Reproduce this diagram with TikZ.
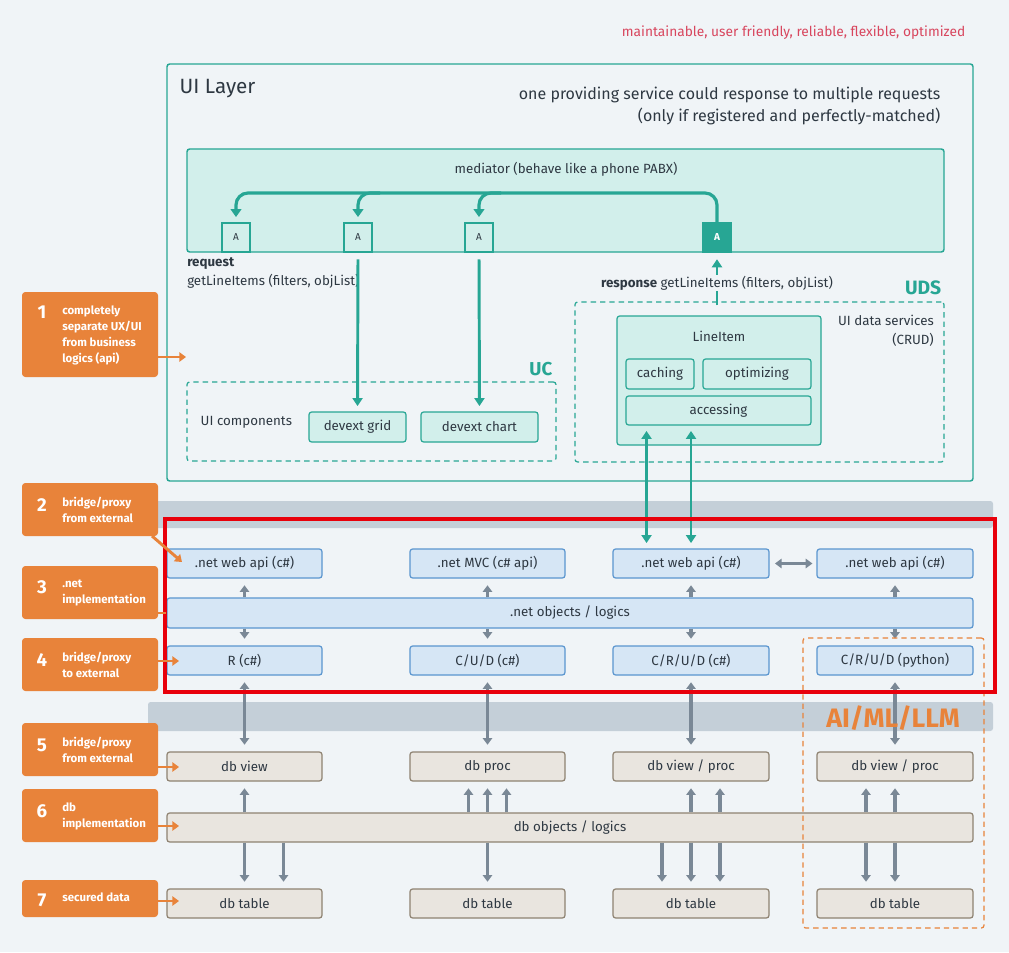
\documentclass[tikz,border=0pt]{standalone}
\usepackage{fontspec}
\setmainfont{Fira Sans}
\usetikzlibrary{arrows.meta,calc}
\definecolor{bg}{HTML}{F0F4F7}
\definecolor{teal}{HTML}{27A694}
\definecolor{tealL}{HTML}{D2EFEB}
\definecolor{txt}{HTML}{2E3842}
\definecolor{blueF}{HTML}{D6E6F5}
\definecolor{blueB}{HTML}{5A95CF}
\definecolor{garr}{HTML}{7A8896}
\definecolor{gbar}{HTML}{C4CFD8}
\definecolor{brownF}{HTML}{E9E5DF}
\definecolor{brownB}{HTML}{8E8271}
\definecolor{orng}{HTML}{E8833A}
\definecolor{redR}{HTML}{E8000B}
\definecolor{redT}{HTML}{D8465E}
\newcommand\mybox[7]{%
  \pgfmathsetmacro\bcx{(#3+#5)/2}%
  \pgfmathsetmacro\bcy{(#4+#6)/2}%
  \pgfmathsetmacro\bw{(#5-#3)*0.75}%
  \pgfmathsetmacro\bh{(#6-#4)*0.75}%
  \node[#2,minimum width=\bw pt,minimum height=\bh pt,inner sep=0pt] (#1) at (\bcx,\bcy) {#7};}
\tikzset{
  uilayer/.style={draw=teal,line width=1.1pt,rounded corners=2pt},
  medbox/.style={draw=teal,fill=tealL,line width=1.1pt,rounded corners=2pt},
  abox/.style={draw=teal,fill=tealL,line width=0.9pt,font=\fontsize{7.5}{9}\selectfont},
  aboxf/.style={draw=teal,fill=teal,line width=0.9pt,text=white,font=\fontsize{7.5}{9}\selectfont\bfseries},
  tbox/.style={draw=teal,fill=tealL,line width=0.9pt,rounded corners=2pt},
  dasht/.style={draw=teal,line width=0.9pt,dash pattern=on 4pt off 3pt,rounded corners=2pt},
  dasho/.style={draw=orng,line width=0.9pt,dash pattern=on 4pt off 3pt,rounded corners=2pt},
  bbox/.style={draw=blueB,fill=blueF,line width=0.9pt,rounded corners=2pt},
  dbox/.style={draw=brownB,fill=brownF,line width=0.9pt,rounded corners=2pt},
  callout/.style={fill=orng,rounded corners=2.5pt},
  cnum/.style={text=white,font=\fontsize{14}{16}\selectfont\bfseries},
  ctext/.style={text=white,font=\fontsize{8.6}{12}\selectfont\bfseries,align=left,inner sep=0pt,anchor=north west},
  tline/.style={draw=teal,line width=2.4pt,-{Triangle[length=6pt,width=8pt]}},
  tarrow/.style={draw=teal,line width=2.2pt,-{Triangle[length=6pt,width=7.5pt]}},
  tdarrow/.style={draw=teal,line width=2.2pt,{Triangle[length=6pt,width=7.5pt]}-{Triangle[length=6pt,width=7.5pt]}},
  garrow/.style={draw=garr,line width=2.4pt,-{Triangle[length=5pt,width=7pt]}},
  gdarrow/.style={draw=garr,line width=2.4pt,{Triangle[length=5pt,width=7pt]}-{Triangle[length=5pt,width=7pt]}},
  oarrow/.style={draw=orng,line width=2.2pt,-{Triangle[length=5pt,width=7pt]}},
}
\begin{document}
\begin{tikzpicture}[x=0.75pt,y=-0.75pt,font=\fontsize{10}{12}\selectfont,text=txt]
\path[fill=bg] (0,0) rectangle (1009,952);
\useasboundingbox (0,0) rectangle (1009,952);

% top note
\node[anchor=east,text=redT,font=\fontsize{10.3}{12}\selectfont] (note) at (970,33) {maintainable, user friendly, reliable, flexible, optimized};

% UI layer
\mybox{ui}{uilayer}{167}{64}{973}{481}{}
\node[anchor=west,font=\fontsize{15.5}{18}\selectfont] (uit) at (175,89) {UI Layer};
\node[anchor=east,align=right,font=\fontsize{12}{16.5}\selectfont] (uinote) at (945,106) {one providing service could response to multiple requests\\(only if registered and perfectly-matched)};

% mediator
\mybox{med}{medbox}{187}{149}{944}{252}{}
\node (medt) at (566,169) {mediator (behave like a phone PABX)};
\mybox{a1}{abox}{222}{223}{250}{252}{A}
\mybox{a2}{abox}{344}{223}{372}{252}{A}
\mybox{a3}{abox}{465}{223}{493}{252}{A}
\mybox{a4}{aboxf}{703}{223}{731}{252}{A}
\coordinate (bus) at (0,193);
\draw[tline,rounded corners=9pt,shorten >=4pt] (a4.north) -- (a4.north |- bus) -- (a1.north |- bus) -- (a1.north);
\draw[tline,rounded corners=9pt,shorten >=4pt] ($(a2.north |- bus)+(22,0)$) -- (a2.north |- bus) -- (a2.north);
\draw[tline,rounded corners=9pt,shorten >=4pt] ($(a3.north |- bus)+(22,0)$) -- (a3.north |- bus) -- (a3.north);

\node[anchor=north west,align=left,inner sep=0pt,font=\fontsize{10}{14.5}\selectfont] (req) at (187,257) {\textbf{request}\\getLineItems (filters, objList)};

% UC
\mybox{uc}{dasht}{187}{382}{556}{461}{}
\node[anchor=east,text=teal,font=\fontsize{14}{16}\selectfont\bfseries] (uct) at (557,369) {UC};
\node[anchor=west] (ucl) at (196,422) {UI components};
\mybox{grid}{tbox}{309}{412}{406}{442}{devext grid}
\mybox{chart}{tbox}{421}{412}{538}{442}{devext chart}
\draw[tarrow,shorten <=5pt,shorten >=4pt] (a2.south) -- (grid.north);
\draw[tarrow,shorten <=5pt,shorten >=4pt] (a3.south) -- (chart.north);

% UDS
\mybox{uds}{dasht}{575}{302}{944}{462}{}
\node[anchor=east,text=teal,font=\fontsize{14.5}{16}\selectfont\bfseries] (udst) at (946,288) {UDS};
\node[anchor=north east,align=right,inner sep=0pt,font=\fontsize{10}{14.25}\selectfont] (udsl) at (934,315) {UI data services\\(CRUD)};
\mybox{li}{tbox}{617}{316}{821}{445}{}
\node (lit) at (719,336) {LineItem};
\mybox{cach}{tbox}{626}{359}{694}{389}{caching}
\mybox{opt}{tbox}{703}{359}{811}{389}{optimizing}
\mybox{acc}{tbox}{626}{396}{811}{425}{accessing}
\draw[tarrow,shorten <=4pt,shorten >=5pt] ($(a4.south)+(0,58)$) coordinate (resp0) -- (a4.south);
\node[fill=bg,inner sep=1pt] (resp) at (717,283) {\textbf{response} getLineItems (filters, objList)};

% gray bars
\path[fill=gbar,rounded corners=2pt] (148,501) rectangle (993,528);
\path[fill=gbar,rounded corners=2pt] (148,702) rectangle (993,731);

% .net layer
\mybox{w1}{bbox}{167}{549}{322}{578}{.net web api (c\#)}
\mybox{w2}{bbox}{410}{549}{565}{578}{.net MVC (c\# api)}
\mybox{w3}{bbox}{613}{549}{769}{578}{.net web api (c\#)}
\mybox{w4}{bbox}{817}{549}{973}{578}{.net web api (c\#)}
\mybox{nobj}{bbox}{167}{598}{973}{628}{.net objects / logics}
\mybox{r1}{bbox}{167}{646}{322}{675}{R (c\#)}
\mybox{r2}{bbox}{410}{646}{565}{675}{C/U/D (c\#)}
\mybox{r3}{bbox}{613}{646}{769}{675}{C/R/U/D (c\#)}
\mybox{r4}{bbox}{817}{646}{973}{675}{C/R/U/D (python)}

\draw[gdarrow,shorten <=4pt,shorten >=3pt] (w3.east) -- (w4.east -| w4.west);
\foreach \n in {1,2,3,4}{
  \draw[garrow,shorten >=5pt] (w\n.south |- nobj.north) -- (w\n.south);
  \draw[garrow,shorten >=5pt] (w\n.south |- nobj.south) -- (r\n.north);
}

% accessing arrows
\path ($(acc.south)+(-72,0)$) coordinate (ac1);
\draw[tdarrow,shorten <=4pt,shorten >=4pt] (ac1) -- (ac1 |- w3.north);
\draw[tdarrow,shorten <=4pt,shorten >=4pt] (w3.north |- acc.south) -- (w3.north);

% db layer
\mybox{d1}{dbox}{167}{752}{322}{781}{db view}
\mybox{d2}{dbox}{410}{752}{565}{781}{db proc}
\mybox{d3}{dbox}{613}{752}{769}{781}{db view / proc}
\mybox{d4}{dbox}{817}{752}{973}{781}{db view / proc}
\mybox{dobj}{dbox}{167}{813}{973}{842}{db objects / logics}
\mybox{t1}{dbox}{167}{889}{322}{918}{db table}
\mybox{t2}{dbox}{410}{889}{565}{918}{db table}
\mybox{t3}{dbox}{613}{889}{769}{918}{db table}
\mybox{t4}{dbox}{817}{889}{973}{918}{db table}

\foreach \n in {1,2,3,4}{
  \draw[gdarrow,shorten <=5pt,shorten >=5pt] (r\n.south) -- (d\n.north);
}
\foreach \n/\dx in {1/0, 2/-19, 2/0, 2/19, 3/0, 3/29, 4/-29, 4/0}{
  \path ($(d\n.south)+(\dx,0)$) coordinate (s);
  \draw[garrow,shorten >=5pt] (s |- dobj.north) -- (s);
}
\foreach \n/\dx in {1/0, 1/39, 2/0, 3/-29, 3/0, 3/29, 4/-29, 4/0}{
  \path ($(t\n.north)+(\dx,0)$) coordinate (s);
  \draw[garrow,shorten >=5pt] (s |- dobj.south) -- (s);
}

% AI/ML/LLM
\mybox{ai}{dasho}{803}{638}{984}{928}{}
\node[text=orng,font=\fontsize{20}{22}\selectfont\bfseries] (ait) at (893,718) {AI/ML/LLM};

% red frame
\draw[redR,line width=3pt] (165,519) rectangle (995,692);

% callouts
\mybox{c1}{callout}{22}{292}{158}{377}{}
\node[cnum] at (42,312) {1};
\node[ctext] at (62,306) {completely\\separate UX/UI\\from business\\logics (api)};
\mybox{c2}{callout}{22}{483}{158}{536}{}
\node[cnum] at (42,505) {2};
\node[ctext] at (62,497) {bridge/proxy\\from external};
\mybox{c3}{callout}{22}{566}{158}{619}{}
\node[cnum] at (42,587) {3};
\node[ctext] at (62,580) {.net\\implementation};
\mybox{c4}{callout}{22}{638}{158}{691}{}
\node[cnum] at (42,660) {4};
\node[ctext] at (62,652) {bridge/proxy\\to external};
\mybox{c5}{callout}{22}{723}{158}{776}{}
\node[cnum] at (42,745) {5};
\node[ctext] at (62,737) {bridge/proxy\\from external};
\mybox{c6}{callout}{22}{789}{158}{842}{}
\node[cnum] at (42,811) {6};
\node[ctext] at (62,803) {db\\implementation};
\mybox{c7}{callout}{22}{880}{158}{917}{}
\node[cnum] at (42,900) {7};
\node[ctext] at (62,893) {secured data};

\coordinate (p1) at (186,357);
\draw[oarrow] (c1.east |- p1) -- (p1);
\coordinate (p2a) at (152,536);
\coordinate (p2) at (182,562);
\draw[oarrow] (p2a) -- (p2);
\draw[draw=orng,line width=2.2pt] (c3.east |- nobj.west) -- (nobj.west);
\coordinate (p4) at (179,661);
\draw[oarrow] (c4.east |- p4) -- (p4);
\coordinate (p5) at (179,767);
\draw[oarrow] (c5.east |- p5) -- (p5);
\coordinate (p6) at (179,826);
\draw[oarrow] (c6.east |- p6) -- (p6);
\coordinate (p7) at (179,901);
\draw[oarrow] (c7.east |- p7) -- (p7);
\end{tikzpicture}
\end{document}
